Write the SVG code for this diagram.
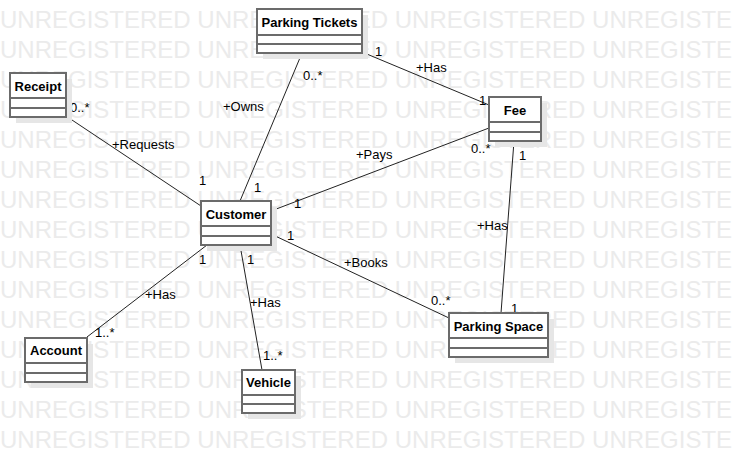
<svg xmlns="http://www.w3.org/2000/svg" width="733" height="454" viewBox="0 0 733 454">
<style>
.wm{font-family:"Liberation Sans",Arial,sans-serif;font-size:24px;fill:#ebebeb;}
.box{fill:#fff;stroke:#6b6b6b;stroke-width:2;}
.sh{fill:#e6e6e6;}
.div{stroke:#6b6b6b;stroke-width:2;}
.nm{font-family:"Liberation Sans",Arial,sans-serif;font-size:13px;font-weight:bold;fill:#000;text-anchor:middle;}
.lbl{font-family:"Liberation Sans",Arial,sans-serif;font-size:13px;fill:#000;}
.ln{stroke:#222;stroke-width:1;fill:none;}
</style>
<rect width="733" height="454" fill="#fff"/>
<g id="watermark">
<text class="wm" x="0" y="28">UNREGISTERED UNREGISTERED UNREGISTERED UNREGISTERED</text>
<text class="wm" x="0" y="58">UNREGISTERED UNREGISTERED UNREGISTERED UNREGISTERED</text>
<text class="wm" x="0" y="88">UNREGISTERED UNREGISTERED UNREGISTERED UNREGISTERED</text>
<text class="wm" x="0" y="118">UNREGISTERED UNREGISTERED UNREGISTERED UNREGISTERED</text>
<text class="wm" x="0" y="148">UNREGISTERED UNREGISTERED UNREGISTERED UNREGISTERED</text>
<text class="wm" x="0" y="178">UNREGISTERED UNREGISTERED UNREGISTERED UNREGISTERED</text>
<text class="wm" x="0" y="208">UNREGISTERED UNREGISTERED UNREGISTERED UNREGISTERED</text>
<text class="wm" x="0" y="238">UNREGISTERED UNREGISTERED UNREGISTERED UNREGISTERED</text>
<text class="wm" x="0" y="268">UNREGISTERED UNREGISTERED UNREGISTERED UNREGISTERED</text>
<text class="wm" x="0" y="298">UNREGISTERED UNREGISTERED UNREGISTERED UNREGISTERED</text>
<text class="wm" x="0" y="328">UNREGISTERED UNREGISTERED UNREGISTERED UNREGISTERED</text>
<text class="wm" x="0" y="358">UNREGISTERED UNREGISTERED UNREGISTERED UNREGISTERED</text>
<text class="wm" x="0" y="388">UNREGISTERED UNREGISTERED UNREGISTERED UNREGISTERED</text>
<text class="wm" x="0" y="418">UNREGISTERED UNREGISTERED UNREGISTERED UNREGISTERED</text>
<text class="wm" x="0" y="448">UNREGISTERED UNREGISTERED UNREGISTERED UNREGISTERED</text>
</g>
<g id="connectors">
<line class="ln" x1="302" y1="53" x2="240" y2="201"/>
<line class="ln" x1="362" y1="52" x2="489" y2="105"/>
<line class="ln" x1="66" y1="116" x2="201" y2="206"/>
<line class="ln" x1="271" y1="211" x2="489" y2="128"/>
<line class="ln" x1="514" y1="141" x2="501" y2="313"/>
<line class="ln" x1="271" y1="234" x2="449" y2="318"/>
<line class="ln" x1="207" y1="245" x2="87" y2="337"/>
<line class="ln" x1="240" y1="245" x2="262" y2="370"/>
<text class="lbl" x="303" y="80">0..*</text>
<text class="lbl" x="223" y="111">+Owns</text>
<text class="lbl" x="254" y="192">1</text>
<text class="lbl" x="375" y="56">1</text>
<text class="lbl" x="416" y="72">+Has</text>
<text class="lbl" x="479" y="105">1</text>
<text class="lbl" x="70" y="112">0..*</text>
<text class="lbl" x="112" y="149">+Requests</text>
<text class="lbl" x="199" y="185">1</text>
<text class="lbl" x="356" y="159">+Pays</text>
<text class="lbl" x="471" y="153">0..*</text>
<text class="lbl" x="294" y="208">1</text>
<text class="lbl" x="519" y="160">1</text>
<text class="lbl" x="477" y="230">+Has</text>
<text class="lbl" x="511" y="313">1</text>
<text class="lbl" x="287" y="240">1</text>
<text class="lbl" x="344" y="267">+Books</text>
<text class="lbl" x="431" y="305">0..*</text>
<text class="lbl" x="199" y="264">1</text>
<text class="lbl" x="145" y="299">+Has</text>
<text class="lbl" x="95" y="337">1..*</text>
<text class="lbl" x="247" y="264">1</text>
<text class="lbl" x="250" y="307">+Has</text>
<text class="lbl" x="263" y="360">1..*</text>
</g>
<g id="ParkingTickets">
<rect class="sh" x="263" y="15" width="105" height="44"/>
<rect class="box" x="257" y="9" width="105" height="44"/>
<line class="div" x1="257" y1="35" x2="362" y2="35"/>
<line class="div" x1="257" y1="44" x2="362" y2="44"/>
<text class="nm" x="309.5" y="27">Parking Tickets</text>
</g>
<g id="Receipt">
<rect class="sh" x="16" y="79" width="56" height="44"/>
<rect class="box" x="10" y="73" width="56" height="44"/>
<line class="div" x1="10" y1="98" x2="66" y2="98"/>
<line class="div" x1="10" y1="108" x2="66" y2="108"/>
<text class="nm" x="38" y="91">Receipt</text>
</g>
<g id="Fee">
<rect class="sh" x="495" y="103" width="52" height="44"/>
<rect class="box" x="489" y="97" width="52" height="44"/>
<line class="div" x1="489" y1="122" x2="541" y2="122"/>
<line class="div" x1="489" y1="132" x2="541" y2="132"/>
<text class="nm" x="515" y="115">Fee</text>
</g>
<g id="Customer">
<rect class="sh" x="207" y="207" width="70" height="44"/>
<rect class="box" x="201" y="201" width="70" height="44"/>
<line class="div" x1="201" y1="226" x2="271" y2="226"/>
<line class="div" x1="201" y1="236" x2="271" y2="236"/>
<text class="nm" x="236" y="219">Customer</text>
</g>
<g id="Account">
<rect class="sh" x="31" y="344" width="62" height="44"/>
<rect class="box" x="25" y="338" width="62" height="44"/>
<line class="div" x1="25" y1="363" x2="87" y2="363"/>
<line class="div" x1="25" y1="373" x2="87" y2="373"/>
<text class="nm" x="56" y="355">Account</text>
</g>
<g id="Vehicle">
<rect class="sh" x="248" y="376" width="53" height="43"/>
<rect class="box" x="242" y="370" width="53" height="43"/>
<line class="div" x1="242" y1="395" x2="295" y2="395"/>
<line class="div" x1="242" y1="404" x2="295" y2="404"/>
<text class="nm" x="268.5" y="387">Vehicle</text>
</g>
<g id="ParkingSpace">
<rect class="sh" x="455" y="319" width="99" height="44"/>
<rect class="box" x="449" y="313" width="99" height="44"/>
<line class="div" x1="449" y1="338" x2="548" y2="338"/>
<line class="div" x1="449" y1="348" x2="548" y2="348"/>
<text class="nm" x="498.5" y="331">Parking Space</text>
</g>
</svg>
